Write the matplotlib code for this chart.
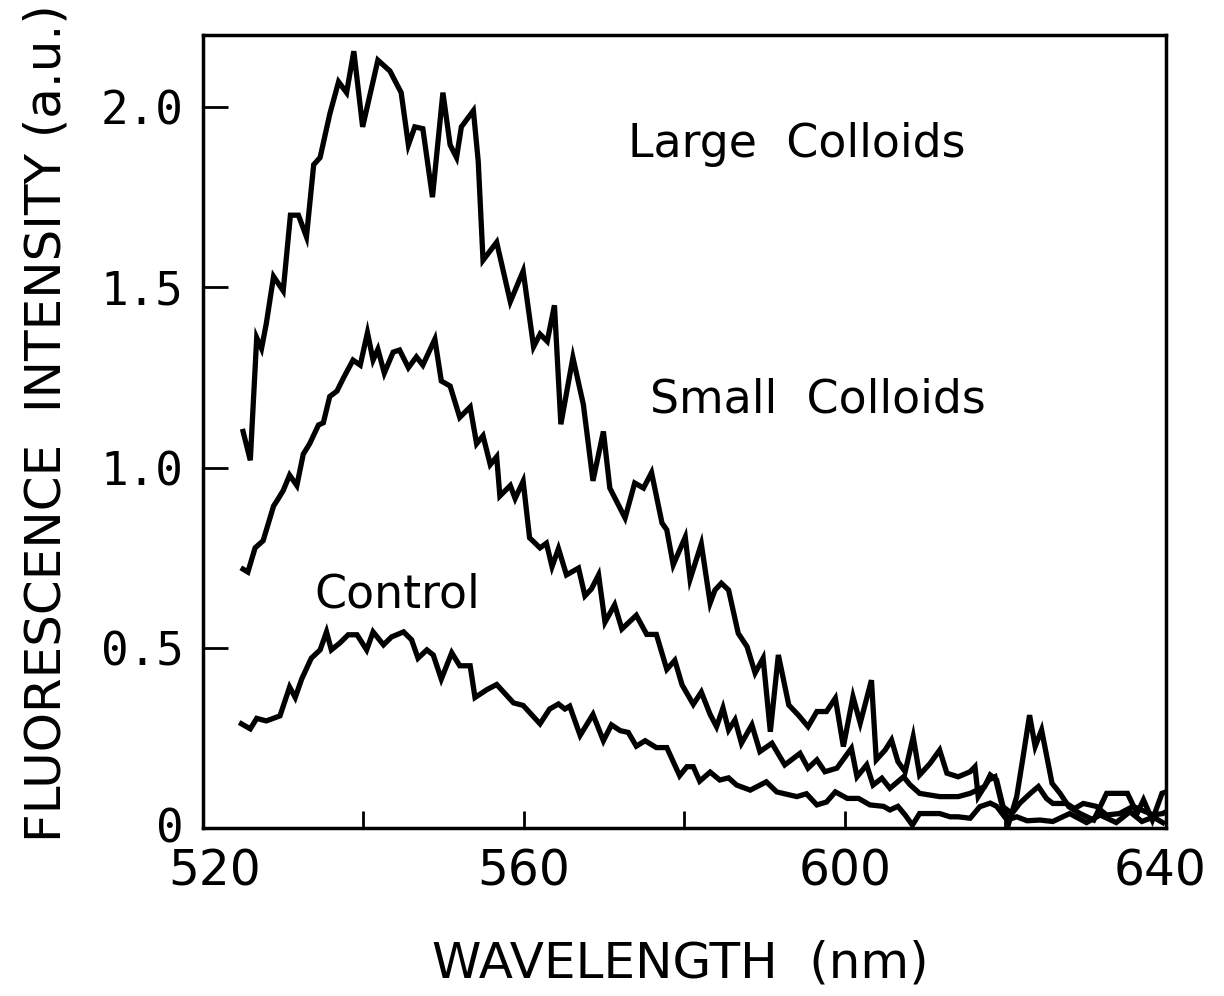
import matplotlib
matplotlib.use('Agg')
import matplotlib.pyplot as plt
from matplotlib import font_manager
from matplotlib.transforms import ScaledTranslation

# spectra: wavelength (nm) / intensity (a.u.)
large_nm = [525.0, 525.9, 526.7, 527.3, 527.9, 528.8, 530.0, 530.9, 531.9, 532.9,
            533.8, 534.6, 535.8, 536.9, 537.9, 538.8, 539.9, 541.8, 543.3, 544.7,
            545.6, 546.4, 547.4, 548.6, 549.9, 550.8, 551.6, 552.2, 553.7, 554.3,
            554.9, 556.6, 558.3, 559.9, 561.2, 562.0, 562.9, 563.8, 564.6, 566.1,
            567.4, 568.6, 569.9, 570.7, 572.6, 573.8, 574.9, 575.9, 577.2, 577.8,
            578.6, 580.1, 580.7, 582.1, 583.2, 583.8, 584.6, 585.5, 586.7, 587.8,
            588.8, 589.8, 590.7, 591.7, 593.0, 594.2, 595.4, 596.5, 597.7, 598.8,
            599.8, 601.0, 601.9, 603.3, 603.9, 605.0, 605.8, 606.6, 607.5, 608.5,
            609.3, 610.6, 611.8, 612.7, 614.1, 615.6, 616.2, 616.6, 617.9, 618.7,
            619.5, 620.4, 621.4, 622.2, 623.0, 623.7, 624.5, 625.8, 626.8, 627.9,
            629.3, 631.0, 632.6, 635.2, 636.4, 637.2, 638.3, 639.5, 640.0]
large_val = [1.10, 1.02, 1.36, 1.33, 1.40, 1.53, 1.49, 1.70, 1.70, 1.64,
             1.84, 1.86, 1.98, 2.07, 2.04, 2.155, 1.945, 2.13, 2.10, 2.04,
             1.895, 1.945, 1.94, 1.75, 2.04, 1.895, 1.86, 1.945, 1.99, 1.85,
             1.575, 1.625, 1.46, 1.545, 1.335, 1.37, 1.35, 1.45, 1.12, 1.305,
             1.175, 0.963, 1.10, 0.943, 0.86, 0.957, 0.943, 0.986, 0.846, 0.827,
             0.73, 0.807, 0.69, 0.788, 0.624, 0.66, 0.679, 0.66, 0.54, 0.503,
             0.43, 0.471, 0.267, 0.48, 0.341, 0.313, 0.281, 0.323, 0.323, 0.36,
             0.226, 0.364, 0.291, 0.41, 0.189, 0.216, 0.244, 0.184, 0.156, 0.253,
             0.147, 0.179, 0.216, 0.152, 0.142, 0.156, 0.17, 0.087, 0.133, 0.142,
             0.069, 0.013, 0.087, 0.198, 0.313, 0.226, 0.272, 0.124, 0.096, 0.059,
             0.04, 0.022, 0.096, 0.096, 0.04, 0.078, 0.022, 0.096, 0.10]

small_nm = [525.0, 525.6, 526.5, 527.5, 528.8, 529.4, 530.0, 530.8, 531.7, 532.5,
            533.3, 534.4, 535.0, 535.8, 536.7, 537.5, 538.7, 539.6, 540.5, 541.2,
            541.8, 542.6, 543.7, 544.5, 545.6, 546.6, 547.4, 548.9, 549.7, 550.8,
            552.0, 553.3, 554.1, 554.9, 555.8, 556.6, 557.0, 558.3, 558.9, 559.9,
            560.7, 562.0, 562.8, 563.5, 564.3, 565.3, 566.8, 567.6, 568.4, 569.3,
            570.1, 571.3, 572.2, 574.0, 575.3, 576.5, 577.8, 578.8, 579.7, 581.1,
            582.1, 583.2, 584.0, 584.8, 585.5, 586.3, 587.1, 588.4, 589.4, 590.9,
            592.5, 594.4, 595.4, 596.5, 597.5, 599.0, 600.8, 601.5, 602.7, 603.5,
            604.6, 605.6, 607.3, 608.1, 609.3, 611.8, 614.1, 615.6, 617.4, 618.1,
            618.9, 619.7, 620.8, 621.8, 623.1, 624.1, 625.1, 625.9, 627.6, 628.6,
            629.7, 631.3, 632.6, 634.2, 635.9, 638.4, 639.6, 640.0]
small_val = [0.718, 0.71, 0.777, 0.797, 0.893, 0.914, 0.936, 0.979, 0.95, 1.037,
             1.066, 1.118, 1.124, 1.197, 1.212, 1.248, 1.298, 1.284, 1.374, 1.298,
             1.328, 1.262, 1.32, 1.326, 1.277, 1.307, 1.284, 1.356, 1.24, 1.226,
             1.139, 1.168, 1.066, 1.088, 1.008, 1.03, 0.921, 0.95, 0.914, 0.962,
             0.805, 0.777, 0.79, 0.725, 0.775, 0.702, 0.721, 0.644, 0.663, 0.702,
             0.571, 0.619, 0.552, 0.59, 0.537, 0.537, 0.44, 0.465, 0.397, 0.343,
             0.377, 0.315, 0.281, 0.333, 0.272, 0.30, 0.235, 0.286, 0.212, 0.235,
             0.175, 0.207, 0.166, 0.189, 0.156, 0.166, 0.221, 0.142, 0.175, 0.119,
             0.138, 0.11, 0.142, 0.12, 0.096, 0.087, 0.087, 0.096, 0.115, 0.147,
             0.133, 0.059, 0.04, 0.069, 0.096, 0.115, 0.082, 0.068, 0.068, 0.054,
             0.068, 0.06, 0.036, 0.04, 0.06, 0.036, 0.04, 0.045]

control_nm = [524.8, 525.9, 526.7, 527.9, 529.6, 530.8, 531.5, 532.3, 533.5, 534.6,
              535.4, 536.0, 537.1, 538.1, 539.2, 540.4, 541.2, 542.5, 543.5, 545.0,
              546.0, 546.8, 547.9, 548.7, 549.7, 551.0, 552.0, 553.3, 553.9, 555.4,
              556.6, 558.7, 559.9, 562.0, 563.2, 564.3, 565.1, 565.7, 567.0, 568.6,
              569.9, 570.9, 572.0, 573.0, 574.0, 575.1, 576.5, 577.8, 579.4, 580.3,
              581.1, 581.9, 583.2, 584.4, 585.5, 586.5, 588.2, 590.2, 591.5, 594.0,
              595.2, 596.5, 597.7, 598.8, 600.3, 601.7, 603.1, 604.8, 605.6, 606.6,
              607.5, 608.4, 609.3, 611.8, 613.1, 614.1, 615.6, 616.8, 618.1, 618.9,
              620.2, 621.4, 622.7, 624.3, 625.9, 628.0, 630.1, 631.8, 633.8, 635.5,
              637.0, 638.4, 639.6]
control_val = [0.289, 0.275, 0.304, 0.297, 0.311, 0.391, 0.362, 0.413, 0.471, 0.494,
               0.544, 0.494, 0.514, 0.536, 0.536, 0.494, 0.544, 0.508, 0.53, 0.544,
               0.522, 0.471, 0.494, 0.48, 0.413, 0.486, 0.45, 0.45, 0.362, 0.384,
               0.398, 0.347, 0.34, 0.289, 0.33, 0.344, 0.33, 0.338, 0.257, 0.315,
               0.242, 0.286, 0.27, 0.265, 0.227, 0.242, 0.223, 0.223, 0.145, 0.17,
               0.17, 0.13, 0.155, 0.133, 0.139, 0.119, 0.105, 0.128, 0.10, 0.087,
               0.095, 0.064, 0.072, 0.10, 0.082, 0.082, 0.064, 0.06, 0.05, 0.06,
               0.036, 0.008, 0.04, 0.04, 0.031, 0.031, 0.027, 0.059, 0.069, 0.06,
               0.022, 0.031, 0.02, 0.022, 0.018, 0.04, 0.015, 0.036, 0.015, 0.045,
               0.018, 0.03, 0.015]

x_ticks = [520, 540, 560, 580, 600, 620, 640]
x_ticklabels = ['520', '', '560', '', '600', '', '640']
y_ticks = [0, 0.5, 1.0, 1.5, 2.0]
y_ticklabels = ['0', '0.5', '1.0', '1.5', '2.0']


def has_font(name):
    try:
        font_manager.findfont(name, fallback_to_default=False)
        return True
    except ValueError:
        return False


narrow = 'Liberation Sans Narrow' if has_font('Liberation Sans Narrow') else 'DejaVu Sans'
label_size = 46 if narrow != 'DejaVu Sans' else 36

fig = plt.figure(figsize=(12.24, 9.96), dpi=100)
ax = fig.add_axes([0.1658, 0.1687, 0.7868, 0.7962])

for xs, ys in [(large_nm, large_val), (small_nm, small_val), (control_nm, control_val)]:
    ax.plot(xs, ys, color='black', lw=3.8, solid_joinstyle='miter')

ax.set_xlim(520, 640)
ax.set_ylim(0, 2.2)

ax.set_xticks(x_ticks)
ax.set_xticklabels(x_ticklabels, fontsize=35, family='DejaVu Sans')
ax.set_yticks(y_ticks)
ax.set_yticklabels(y_ticklabels, fontsize=33, family='DejaVu Sans Mono')
ax.tick_params(axis='x', direction='in', length=12, width=2, pad=14)
ax.tick_params(axis='y', direction='in', length=18, width=2, pad=14)
for s in ax.spines.values():
    s.set_linewidth(2.5)

# nudge the end labels like the original: 520 right, 0 up
xl = ax.get_xticklabels()
xl[0].set_transform(xl[0].get_transform() + ScaledTranslation(0.12, 0, fig.dpi_scale_trans))
xl[-1].set_transform(xl[-1].get_transform() + ScaledTranslation(-0.06, 0, fig.dpi_scale_trans))
yl = ax.get_yticklabels()
yl[0].set_transform(yl[0].get_transform() + ScaledTranslation(0, 0.03, fig.dpi_scale_trans))

ax.text(594, 1.895, 'Large  Colloids', fontsize=33, ha='center', va='center')
ax.text(596.6, 1.187, 'Small  Colloids', fontsize=33, ha='center', va='center')
ax.text(544.2, 0.646, 'Control', fontsize=33, ha='center', va='center')

fig.text(0.556, 0.033, 'WAVELENGTH  (nm)', fontsize=label_size, family=narrow,
         ha='center', va='center')
fig.text(0.038, 0.575, 'FLUORESCENCE  INTENSITY (a.u.)', fontsize=label_size,
         family=narrow, rotation=90, ha='center', va='center')

fig.savefig('out.png', dpi=100)
